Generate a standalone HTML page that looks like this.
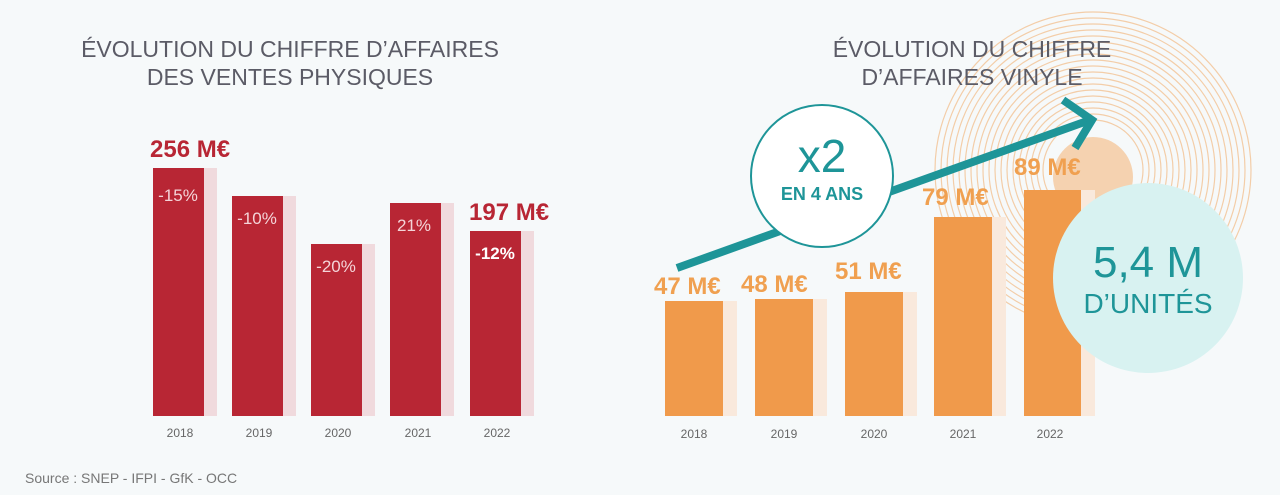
<!DOCTYPE html>
<html><head><meta charset="utf-8"><style>
body{margin:0;background:#f6f9fa;}
svg{display:block}
</style></head><body>
<svg width="1280" height="495" viewBox="0 0 1280 495" xmlns="http://www.w3.org/2000/svg" font-family="Liberation Sans, sans-serif">
<rect width="1280" height="495" fill="#f6f9fa"/>
<g fill="#5b5b66" font-size="23" text-anchor="middle" font-weight="300">
<text x="290" y="57">ÉVOLUTION DU CHIFFRE D’AFFAIRES</text>
<text x="290" y="85">DES VENTES PHYSIQUES</text>
</g>
<g fill="#f0dadd">
<rect x="204" y="168" width="13" height="248"/>
<rect x="283" y="196" width="13" height="220"/>
<rect x="362" y="244" width="13" height="172"/>
<rect x="441" y="203" width="13" height="213"/>
<rect x="521" y="231" width="13" height="185"/>
</g>
<g fill="#b82634">
<rect x="153" y="168" width="51" height="248"/>
<rect x="232" y="196" width="51" height="220"/>
<rect x="311" y="244" width="51" height="172"/>
<rect x="390" y="203" width="51" height="213"/>
<rect x="470" y="231" width="51" height="185"/>
</g>
<g fill="#f4d4d8" font-size="17" text-anchor="middle">
<text x="178" y="201">-15%</text>
<text x="257" y="224">-10%</text>
<text x="336" y="272">-20%</text>
<text x="414" y="231">21%</text>
<text x="495" y="259" fill="#fff" font-weight="bold">-12%</text>
</g>
<g fill="#b82634" font-size="24" font-weight="bold">
<text x="150" y="157">256 M€</text>
<text x="469" y="220">197 M€</text>
</g>
<g fill="#666" font-size="12" text-anchor="middle">
<text x="180" y="437">2018</text><text x="259" y="437">2019</text><text x="338" y="437">2020</text><text x="418" y="437">2021</text><text x="497" y="437">2022</text>
</g>
<g fill="none" stroke="#f3c69a" stroke-width="1.2" opacity="0.85">
<circle cx="1093" cy="170" r="158"/><circle cx="1093" cy="170" r="152"/><circle cx="1093" cy="170" r="146"/>
<circle cx="1093" cy="170" r="140"/><circle cx="1093" cy="170" r="134"/><circle cx="1093" cy="170" r="128"/>
<circle cx="1093" cy="170" r="122"/><circle cx="1093" cy="170" r="116"/><circle cx="1093" cy="170" r="110"/>
<circle cx="1093" cy="170" r="104"/><circle cx="1093" cy="170" r="98"/><circle cx="1093" cy="170" r="92"/>
<circle cx="1093" cy="170" r="86"/><circle cx="1093" cy="170" r="80"/><circle cx="1093" cy="170" r="74"/>
<circle cx="1093" cy="170" r="68"/><circle cx="1093" cy="170" r="62"/><circle cx="1093" cy="170" r="56"/><circle cx="1093" cy="170" r="50"/>
</g>
<circle cx="1093" cy="177" r="40" fill="#f5d2b0"/>
<g fill="#5b5b66" font-size="23" text-anchor="middle" font-weight="300">
<text x="972" y="57">ÉVOLUTION DU CHIFFRE</text>
<text x="972" y="85">D’AFFAIRES VINYLE</text>
</g>
<g fill="#f9e9dc">
<rect x="723" y="301" width="14" height="115"/>
<rect x="813" y="299" width="14" height="117"/>
<rect x="903" y="292" width="14" height="124"/>
<rect x="992" y="217" width="14" height="199"/>
<rect x="1081" y="190" width="14" height="226"/>
</g>
<g fill="#f09a4b">
<rect x="665" y="301" width="58" height="115"/>
<rect x="755" y="299" width="58" height="117"/>
<rect x="845" y="292" width="58" height="124"/>
<rect x="934" y="217" width="58" height="199"/>
<rect x="1024" y="190" width="57" height="226"/>
</g>
<g stroke="#1e9598" stroke-width="8" fill="none">
<line x1="677" y1="268" x2="1090" y2="120"/>
<polyline points="1063,100 1092,120 1075,148"/>
</g>
<g fill="#f0a050" font-size="24" font-weight="bold">
<text x="654" y="294">47 M€</text>
<text x="741" y="292">48 M€</text>
<text x="835" y="279">51 M€</text>
<text x="922" y="205">79 M€</text>
<text x="1014" y="175">89 M€</text>
</g>
<g fill="#666" font-size="12" text-anchor="middle">
<text x="694" y="438">2018</text><text x="784" y="438">2019</text><text x="874" y="438">2020</text><text x="963" y="438">2021</text><text x="1050" y="438">2022</text>
</g>
<circle cx="822" cy="176" r="71" fill="#fff" stroke="#1e9598" stroke-width="2"/>
<text x="822" y="172" fill="#1e9598" font-size="46" text-anchor="middle" font-weight="300">x2</text>
<text x="822" y="200" fill="#1e9598" font-size="18" font-weight="bold" text-anchor="middle">EN 4 ANS</text>
<ellipse cx="1148" cy="278" rx="95" ry="95" fill="#d8f2f1"/>
<text x="1148" y="277" fill="#1e9598" font-size="44" text-anchor="middle" font-weight="300">5,4 M</text>
<text x="1148" y="313" fill="#1e9598" font-size="28" text-anchor="middle" font-weight="300">D’UNITÉS</text>
<text x="25" y="483" fill="#777" font-size="14">Source : SNEP - IFPI - GfK - OCC</text>
</svg>
</body></html>
